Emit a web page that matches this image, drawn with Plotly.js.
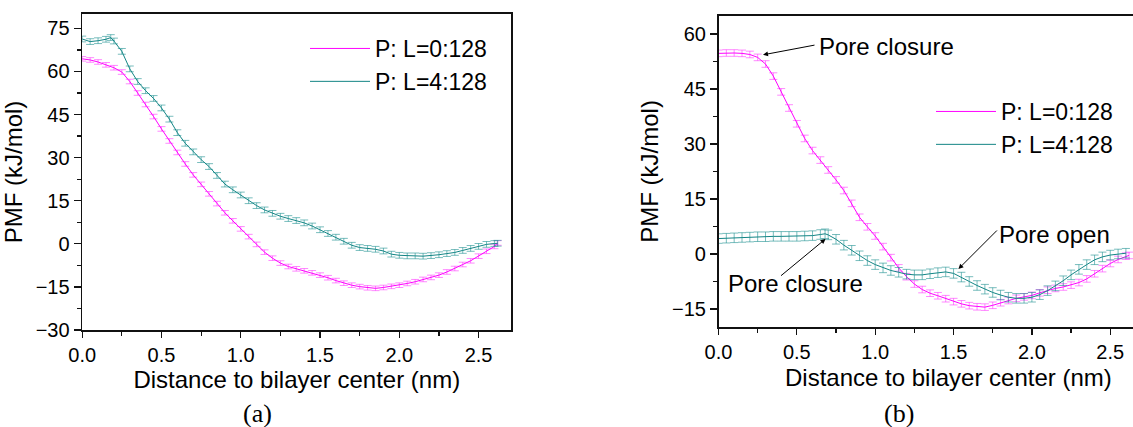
<!DOCTYPE html>
<html>
<head>
<meta charset="utf-8">
<script src="https://cdn.plot.ly/plotly-3.0.1.min.js"></script>
<style>
html,body{margin:0;padding:0;background:#fff;overflow:hidden;width:1133px;height:427px;}
#chart{width:1180px;height:427px;}
</style>
</head>
<body>
<div id="chart"></div>
<script>
// ---------- Panel (a) ----------
const xA0 = [0.00,0.05,0.10,0.15,0.20,0.25,0.30,0.35,0.40,0.45,0.50,0.55,0.60,0.65,0.70,0.75,0.80,0.85,0.90,0.95,1.00,1.05,1.10,1.15,1.20,1.25,1.30,1.35,1.40,1.45,1.50,1.55,1.60,1.65,1.70,1.75,1.80,1.85,1.90,1.95,2.00,2.05,2.10,2.15,2.20,2.25,2.30,2.35,2.40,2.45,2.50,2.55,2.60,2.62];
const pmfA0 = [64.4,64.0,63.3,62.3,61.3,59.8,56.5,52.5,48.5,44.3,40.0,35.8,31.8,27.8,24.0,20.7,17.4,14.0,10.8,8.0,5.2,2.5,-0.2,-2.9,-5.0,-6.7,-7.9,-8.7,-9.4,-10.1,-10.9,-11.8,-12.8,-13.7,-14.4,-14.9,-15.3,-15.5,-15.2,-14.8,-14.4,-13.8,-13.2,-12.4,-11.7,-10.9,-9.8,-8.6,-7.2,-5.9,-4.3,-2.6,-0.9,0.3];
const xA4 = [0.00,0.05,0.10,0.15,0.18,0.20,0.25,0.30,0.35,0.40,0.45,0.50,0.55,0.60,0.65,0.70,0.75,0.80,0.85,0.90,0.95,1.00,1.05,1.10,1.15,1.20,1.25,1.30,1.35,1.40,1.45,1.50,1.55,1.60,1.65,1.70,1.75,1.80,1.85,1.90,1.95,2.00,2.05,2.10,2.15,2.20,2.25,2.30,2.35,2.40,2.45,2.50,2.55,2.60,2.62];
const pmfA4 = [71.3,70.4,70.7,71.2,71.8,70.6,67.0,60.9,56.5,53.3,50.6,47.3,43.4,38.7,35.0,32.0,29.3,26.9,23.8,20.8,18.8,17.0,15.0,13.3,11.8,10.6,9.6,8.8,8.1,7.3,6.2,4.9,3.6,2.3,0.9,-0.5,-1.3,-1.6,-1.9,-2.5,-3.6,-4.0,-4.2,-4.2,-4.3,-4.1,-3.8,-3.4,-3.0,-2.3,-1.6,-0.9,-0.2,0.1,0.2];

// ---------- Panel (b) ----------
const xB0 = [0.00,0.05,0.10,0.15,0.20,0.25,0.30,0.35,0.40,0.45,0.50,0.55,0.60,0.65,0.70,0.75,0.80,0.85,0.90,0.95,1.00,1.05,1.10,1.15,1.20,1.25,1.30,1.35,1.40,1.45,1.50,1.55,1.60,1.65,1.70,1.75,1.80,1.85,1.90,1.95,2.00,2.05,2.10,2.15,2.20,2.25,2.30,2.35,2.40,2.45,2.50,2.55,2.60,2.62];
const pmfB0 = [54.7,54.8,54.8,54.7,54.4,53.6,51.8,48.5,44.2,39.8,35.5,31.5,28.2,25.6,22.9,20.2,17.3,13.8,10.0,7.4,4.9,2.0,-1.0,-3.8,-6.2,-8.2,-9.7,-10.7,-11.4,-12.2,-13.0,-13.6,-14.1,-14.4,-14.5,-14.0,-13.3,-12.7,-12.1,-11.7,-11.3,-10.6,-9.9,-9.4,-9.0,-8.5,-7.8,-6.8,-5.4,-4.0,-2.6,-1.5,-0.6,-0.4];
const xB4 = [0.00,0.05,0.10,0.15,0.20,0.25,0.30,0.35,0.40,0.45,0.50,0.55,0.60,0.65,0.68,0.70,0.75,0.80,0.85,0.90,0.95,1.00,1.05,1.10,1.15,1.20,1.25,1.30,1.35,1.40,1.45,1.50,1.55,1.60,1.65,1.70,1.75,1.80,1.85,1.90,1.95,2.00,2.05,2.10,2.15,2.20,2.25,2.30,2.35,2.40,2.45,2.50,2.55,2.60];
const pmfB4 = [4.2,4.3,4.4,4.5,4.6,4.7,4.7,4.8,4.8,4.8,4.8,4.9,5.0,5.3,5.5,5.2,4.0,2.4,1.0,-0.5,-1.8,-2.9,-3.8,-4.5,-5.0,-5.5,-5.7,-5.7,-5.4,-5.1,-4.9,-5.3,-6.3,-7.5,-8.6,-9.6,-10.5,-11.2,-11.8,-12.1,-12.1,-11.8,-11.1,-10.0,-8.7,-7.3,-5.7,-4.2,-2.9,-1.6,-0.8,-0.3,0.0,0.2];

// error-bar half widths (kJ/mol)
const errA0 = 0.8, errA4 = 1.0, errB0 = 0.9, errB4 = 1.3;

const seriesNames = ['P: L=0:128', 'P: L=4:128'];
const xTickVals = [0, 0.5, 1.0, 1.5, 2.0, 2.5];
const xTickText = ['0.0', '0.5', '1.0', '1.5', '2.0', '2.5'];
const yTickValsA = [-30, -15, 0, 15, 30, 45, 60, 75];
const yTickValsB = [-15, 0, 15, 30, 45, 60];
const xTitle = 'Distance to bilayer center (nm)';
const yTitle = 'PMF (kJ/mol)';

const MAG = '#ff00ff', MAG_E = 'rgba(255,60,255,0.6)';
const TEAL = '#138585', TEAL_E = 'rgba(30,145,145,0.6)';

const W = 1180, H = 427;
const px = v => v / W, py = v => 1 - v / H;

function trace(x, y, err, color, ecolor, name, xa, ya, leg) {
  return {
    x: x, y: y, type: 'scatter', mode: 'lines', name: name,
    xaxis: xa, yaxis: ya, legend: leg, showlegend: true,
    line: {color: color, width: 1},
    error_y: {type: 'constant', value: err, color: ecolor, thickness: 1, width: 4, visible: true}
  };
}

const data = [
  trace(xA0, pmfA0, errA0, MAG, MAG_E, seriesNames[0], 'x', 'y', 'legend'),
  trace(xA4, pmfA4, errA4, TEAL, TEAL_E, seriesNames[1], 'x', 'y', 'legend'),
  trace(xB0, pmfB0, errB0, MAG, MAG_E, seriesNames[0], 'x2', 'y2', 'legend2'),
  trace(xB4, pmfB4, errB4, TEAL, TEAL_E, seriesNames[1], 'x2', 'y2', 'legend2')
];

const font = 'Liberation Sans, Arial, sans-serif';
function xaxis(domain, range, anchor, withTitle) {
  return {
    domain: domain, range: range, anchor: anchor,
    tickvals: xTickVals, ticktext: xTickText,
    ticks: 'outside', ticklen: 6, tickwidth: 1.3, tickcolor: '#111',
    minor: {dtick: 0.25, tick0: 0, ticks: 'outside', ticklen: 4, tickwidth: 1.2, tickcolor: '#111'},
    showline: true, linecolor: '#111', linewidth: 1.6, mirror: true,
    showgrid: false, zeroline: false,
    tickfont: {family: font, size: 20, color: '#000'},
    title: withTitle ? {text: xTitle, font: {family: font, size: 24, color: '#000'}, standoff: 4} : undefined
  };
}
function yaxis(domain, range, anchor, tickvals) {
  return {
    domain: domain, range: range, anchor: anchor,
    tickvals: tickvals,
    ticks: 'outside', ticklen: 7, tickwidth: 1.3, tickcolor: '#111',
    minor: {dtick: 7.5, tick0: 0, ticks: 'outside', ticklen: 4, tickwidth: 1.2, tickcolor: '#111'},
    showline: true, linecolor: '#111', linewidth: 1.6, mirror: true,
    showgrid: false, zeroline: false,
    tickfont: {family: font, size: 20, color: '#000'},
    title: {text: yTitle, font: {family: font, size: 24, color: '#000'}, standoff: 6}
  };
}

const legendFont = {family: font, size: 23, color: '#000'};
const layout = {
  width: W, height: H,
  margin: {l: 0, r: 0, t: 0, b: 0},
  paper_bgcolor: '#fff', plot_bgcolor: '#fff',
  font: {family: font, color: '#000'},
  xaxis: xaxis([px(82.2), px(511.4)], [0, 2.707], 'y', true),
  yaxis: yaxis([py(330), py(14)], [-30, 80], 'x', yTickValsA),
  xaxis2: xaxis([px(718.5), px(1177)], [0, 2.926], 'y2', false),
  yaxis2: yaxis([py(327.3), py(15.6)], [-20, 65], 'x2', yTickValsB),
  legend: {x: px(305), y: py(27), xanchor: 'left', yanchor: 'top', bgcolor: 'rgba(0,0,0,0)',
           font: legendFont, itemwidth: 60, tracegroupgap: 0},
  legend2: {x: px(931), y: py(90), xanchor: 'left', yanchor: 'top', bgcolor: 'rgba(0,0,0,0)',
            font: legendFont, itemwidth: 60, tracegroupgap: 0},
  annotations: [
    {xref: 'paper', yref: 'paper', x: px(948), y: py(377), text: xTitle, showarrow: false,
     xanchor: 'center', yanchor: 'middle', font: {family: font, size: 24, color: '#000'}},
    {xref: 'paper', yref: 'paper', x: px(257), y: py(413), text: '(a)', showarrow: false,
     xanchor: 'center', yanchor: 'middle', font: {family: 'Liberation Serif, Times New Roman, serif', size: 26, color: '#000'}},
    {xref: 'paper', yref: 'paper', x: px(898.5), y: py(413), text: '(b)', showarrow: false,
     xanchor: 'center', yanchor: 'middle', font: {family: 'Liberation Serif, Times New Roman, serif', size: 26, color: '#000'}},
    // text labels
    {xref: 'paper', yref: 'paper', x: px(817), y: py(46), text: 'Pore closure', showarrow: false,
     xanchor: 'left', yanchor: 'middle', font: {family: font, size: 24, color: '#000'}},
    {xref: 'paper', yref: 'paper', x: px(997), y: py(235), text: 'Pore open', showarrow: false,
     xanchor: 'left', yanchor: 'middle', font: {family: font, size: 24, color: '#000'}},
    {xref: 'paper', yref: 'paper', x: px(726), y: py(283), text: 'Pore closure', showarrow: false,
     xanchor: 'left', yanchor: 'middle', font: {family: font, size: 24, color: '#000'}},
    // arrows
    {xref: 'x2', yref: 'y2', x: 0.284, y: 54.3, text: '', showarrow: true, ax: 53, ay: -10,
     arrowhead: 2, arrowsize: 1, arrowwidth: 1, arrowcolor: '#000', standoff: 0},
    {xref: 'x2', yref: 'y2', x: 1.531, y: -4.1, text: '', showarrow: true, ax: 40, ay: -40,
     arrowhead: 2, arrowsize: 1, arrowwidth: 1, arrowcolor: '#000', standoff: 0},
    {xref: 'x2', yref: 'y2', x: 0.683, y: 4.1, text: '', showarrow: true, ax: -46, ay: 38,
     arrowhead: 2, arrowsize: 1, arrowwidth: 1, arrowcolor: '#000', standoff: 0}
  ]
};

Plotly.newPlot('chart', data, layout, {staticPlot: true, displayModeBar: false});
</script>
</body>
</html>
